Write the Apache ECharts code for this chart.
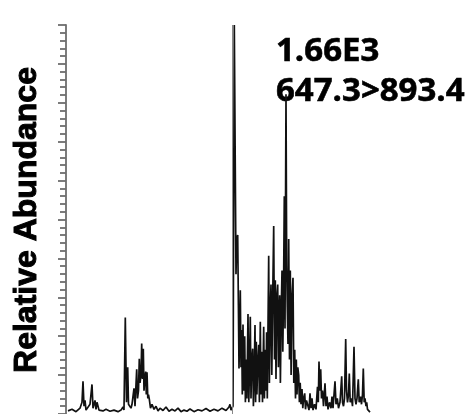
<!DOCTYPE html>
<html>
<head>
<meta charset="utf-8">
<script src="https://cdn.jsdelivr.net/npm/echarts@6/dist/echarts.min.js"></script>
<style>html,body{margin:0;padding:0;background:#fff;}#c{width:468px;height:414px;}</style>
</head>
<body>
<div id="c"></div>
<script>
// scan index (x) and relative abundance (%), in three stretches of the trace
const scansEarly = [2,6,10,14,16,17,18,19,20,22,24,26,27,29,30,31,33,35,37,40,44,48,52,55,57,58,59.3,60.5,61.7,62.5,64,65,66,68,69,70.7,71.5,72.5,73.3,74,75,75.7,76.5,77.3,78,78.8,79.7,80.3,81,81.8,82.5,83.3,84.5,86,88,90,92,94,97,100,103,106,109,112,115,118,121,124,128,132,136,140,144,148,152,156,160,163,164,165,166,167];
const abundEarly = [0.8,1.2,0.6,1.5,3.0,8.4,2.0,3.5,1.0,1.5,2.5,7.6,1.5,3.5,1.2,3.0,1.0,1.5,0.8,1.2,0.7,1.0,0.6,1.0,1.8,1.0,24.8,3,12,2.5,3,1.5,2.5,6.6,2,11.5,4,6,14.2,8,10,18.1,9,16.8,6,9,10.9,5,10.7,4,5,3.8,1.5,2.5,1.2,2.0,0.8,1.5,0.9,1.8,0.7,1.2,0.8,1.5,0.6,1.0,0.7,1.3,0.6,1.1,0.8,1.4,0.7,1.2,0.8,1.5,0.9,1.8,2.5,1.0,1.2,2.0];
const scansMain = [168.3,169.3,170,170.8,171.7,172.4,173,173.6,174.3,175,175.7,176.3,177,177.7,178.7,179.4,180.2,180.9,182,182.8,183.5,184.3,185,185.8,186.7,187.4,188.2,189,189.6,190.3,190.9,191.6,192.7,193.4,194.3,195,195.8,196.5,197.7,198.4,199.3,200,200.6,201.3,202.7,203.4,204.2,205,205.8,206.6,207.7,208.5,209.3,210,210.8,211.7,212.4,213,213.7,214.4,215.2,216,216.8,217.5,218.3,219,220,220.7,221.3,222,222.7,223.5,224.3,225.1,226,227,227.8,228.7,229.5,230.3,231,231.8,232.7,233.4,234.2,235,236,236.8,237.6,238.7,239.5,240.5];
const abundMain = [100,62.3,35.9,45,46,28,11.7,20,31.8,12,21.6,5,23,6,20,3,14,4,25.7,3,12,25,4,14,16.8,2,10,22.9,3,18.6,5,12,17.8,3,23.7,5,16,3,22.4,4,16.5,6,21,4,40.7,8,26,33.3,10,28,48.3,14,34.4,9,30,33.3,12,24,30.5,8,26,36.9,16,30,56,22,82.2,38,27.5,18,45,14,36.9,10,30,35,8,16.5,4,14,5,12,10,3,8,2.5,6.4,1.5,4,5.3,1.2,3.5];
const scansLate = [242,243,244,245,246,247,248.5,250,251.5,252.3,253,253.8,254.7,255.5,256.5,257.5,259,260,261,262,263.5,265,266,267,269,270,271.3,272.5,274,275.7,276.5,277.5,278.5,279.7,280.5,281.5,282.5,283.3,284.2,285.5,286.5,288,289,290,291,292.3,293.2,294.5,295.5,296.5,297.3,298.2,299,300,300.7,301.5,302.5,304];
const abundLate = [3,1,5.3,1.5,4,1.0,2.5,1.2,7,3,13.5,6,11.5,4,6,2,7.9,2,4.5,1.2,3,1.5,4.5,1.5,8.4,2.5,4,1.5,3,9.7,3,2,4,19.3,6,3,5,10.4,3,4,2,17.3,4,2.5,4,8.9,3,4.5,2.5,5,11.7,3,4,2,3,1.2,0.8,0.5];
const markerScan = 166.5;
const yTitle = 'Relative Abundance';
const infoLines = ['1.66E3', '647.3>893.4'];

const scans = scansEarly.concat(scansMain, scansLate);
const abundance = abundEarly.concat(abundMain, abundLate);

const chart = echarts.init(document.getElementById('c'), null, {renderer: 'canvas'});
chart.setOption({
  animation: false,
  backgroundColor: '#fff',
  grid: {left: 66, top: 25, width: 400, height: 393, containLabel: false},
  xAxis: {type: 'value', min: 0, max: 400, show: false},
  yAxis: {
    type: 'value', min: 0, max: 100, interval: 10,
    axisLine: {show: true, lineStyle: {color: '#6e6e6e', width: 1.8}},
    axisTick: {show: true, length: 8, lineStyle: {color: '#6e6e6e', width: 1.8}},
    minorTick: {show: true, splitNumber: 5, length: 6, lineStyle: {color: '#6e6e6e', width: 1.8}},
    axisLabel: {show: false},
    splitLine: {show: false},
    minorSplitLine: {show: false}
  },
  graphic: [
    {type: 'text', x: 27, y: 220, rotation: Math.PI / 2,
     style: {text: yTitle, fontSize: 32, fontWeight: 'bold', fontFamily: '"Liberation Sans", Arial, sans-serif',
             fill: '#000', stroke: '#000', lineWidth: 1.0, align: 'center', verticalAlign: 'middle'}},
    {type: 'text', x: 276, y: 35,
     style: {text: infoLines[0], fontSize: 33, fontWeight: 'bold', fontFamily: '"Open Sans", sans-serif',
             fill: '#000', stroke: '#000', lineWidth: 0.6, align: 'left', verticalAlign: 'alphabetic'}},
    {type: 'text', x: 276, y: 75,
     style: {text: infoLines[1], fontSize: 33, fontWeight: 'bold', fontFamily: '"Open Sans", sans-serif',
             fill: '#000', stroke: '#000', lineWidth: 0.6, align: 'left', verticalAlign: 'alphabetic'}}
  ],
  series: [{
    type: 'line',
    data: scans.map((s, i) => [s, abundance[i]]),
    showSymbol: false,
    lineStyle: {color: '#111', width: 1.7},
    markLine: {
      silent: true, symbol: 'none', label: {show: false},
      lineStyle: {color: '#888', width: 1, type: 'solid'},
      data: [{xAxis: markerScan}]
    }
  }]
});
</script>
</body>
</html>
